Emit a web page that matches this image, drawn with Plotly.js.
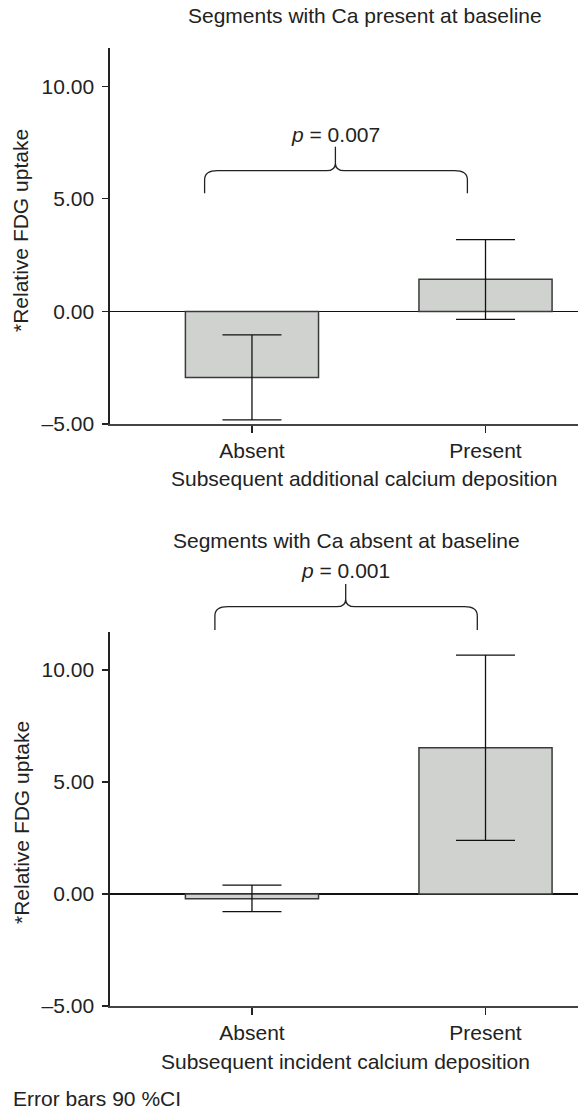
<!DOCTYPE html>
<html>
<head>
<meta charset="utf-8">
<script src="https://cdn.plot.ly/plotly-3.0.1.min.js"></script>
<style>
  html, body { margin: 0; padding: 0; background: #fff; }
  #chart { width: 578px; height: 1109px; }
</style>
</head>
<body>
<div id="chart"></div>
<script>
// ---- data ----
const categories = ["Absent", "Present"];
const topMean = [-2.94, 1.43];
const topLow  = [-4.82, -0.35];
const topHigh = [-1.04, 3.19];
const botMean = [-0.21, 6.53];
const botLow  = [-0.79, 2.40];
const botHigh = [0.40, 10.67];
const yTickVals = [-5, 0, 5, 10];
const yTickText = ["\u20135.00", "0.00", "5.00", "10.00"];

const topTitle = "Segments with Ca present at baseline";
const botTitle = "Segments with Ca absent at baseline";
const topXTitle = "Subsequent additional calcium deposition";
const botXTitle = "Subsequent incident calcium deposition";
const yTitle = "*Relative FDG uptake";
const topP = "<i>p</i> = 0.007";
const botP = "<i>p</i> = 0.001";
const footNote = "Error bars 90 %CI";

// ---- layout helpers (pixel -> paper) ----
const W = 578, H = 1109;
const px = v => v / W;
const py = v => 1 - v / H;

const FONT = "Liberation Sans, Arial, Helvetica, sans-serif";
const TXT = "#222";
const FS = 21;

function barTrace(mean, low, high, xa, ya) {
  return {
    type: "bar",
    x: categories,
    y: mean,
    xaxis: xa, yaxis: ya,
    width: 0.57,
    marker: { color: "#d0d2d0", line: { color: "#3a3a3a", width: 1.5 } },
    error_y: {
      type: "data",
      symmetric: false,
      array: high.map((h, i) => h - mean[i]),
      arrayminus: low.map((l, i) => mean[i] - l),
      color: "#111",
      thickness: 1.3,
      width: 29.5
    },
    hoverinfo: "skip",
    showlegend: false
  };
}

function xAxis(anchor) {
  return {
    anchor: anchor,
    domain: [109.5 / W, 1],
    type: "category",
    range: [-0.61, 1.396],
    showline: true, linecolor: "#444", linewidth: 1.6,
    ticks: "outside", ticklen: 7, tickwidth: 1.2, tickcolor: "#222",
    ticklabelstandoff: 0,
    showgrid: false, zeroline: false,
    tickfont: { family: FONT, size: FS, color: TXT },
    fixedrange: true
  };
}

function yAxis(anchor, top, bottom) {
  return {
    anchor: anchor,
    domain: [py(bottom), py(top)],
    range: [-5, 11.7],
    tickvals: yTickVals, ticktext: yTickText,
    showline: true, linecolor: "#222", linewidth: 1.2,
    ticks: "outside", ticklen: 6, tickwidth: 1.2, tickcolor: "#222",
    ticklabelstandoff: 4,
    showgrid: false,
    zeroline: true, zerolinecolor: "#111", zerolinewidth: 1.2,
    tickfont: { family: FONT, size: FS, color: TXT },
    fixedrange: true
  };
}

function brace(L, R, C, yEnd, yH, yP) {
  const P = (x, y) => px(x) + "," + py(y);
  return "M" + P(L, yEnd) + " L" + P(L, yH + 9) +
    " Q" + P(L, yH) + " " + P(L + 13, yH) +
    " L" + P(C - 9, yH) +
    " Q" + P(C, yH) + " " + P(C, yH - 7.5) +
    " L" + P(C, yP) +
    " M" + P(C, yH - 7.5) +
    " Q" + P(C, yH) + " " + P(C + 9, yH) +
    " L" + P(R - 13, yH) +
    " Q" + P(R, yH) + " " + P(R, yH + 9) +
    " L" + P(R, yEnd);
}

function ann(text, x, y, opts) {
  return Object.assign({
    text: text, xref: "paper", yref: "paper",
    x: px(x), y: py(y), xanchor: "center", yanchor: "middle",
    showarrow: false,
    font: { family: FONT, size: FS, color: TXT }
  }, opts || {});
}

const data = [
  barTrace(topMean, topLow, topHigh, "x", "y"),
  barTrace(botMean, botLow, botHigh, "x2", "y2")
];

const layout = {
  width: W, height: H,
  margin: { l: 0, r: 0, t: 0, b: 0 },
  paper_bgcolor: "#fff", plot_bgcolor: "rgba(0,0,0,0)",
  font: { family: FONT, size: FS, color: TXT },
  xaxis: xAxis("y"),
  yaxis: yAxis("x", 48, 424),
  xaxis2: xAxis("y2"),
  yaxis2: yAxis("x2", 632, 1006),
  bargap: 0.3,
  shapes: [
    { type: "path", xref: "paper", yref: "paper",
      path: brace(204.6, 467.4, 335.4, 193.3, 170.7, 146.7),
      line: { color: "#222", width: 1.3 } },
    { type: "path", xref: "paper", yref: "paper",
      path: brace(214.9, 477.3, 345.7, 630, 606.7, 584),
      line: { color: "#222", width: 1.3 } }
  ],
  annotations: [
    ann(topTitle, 365, 16),
    ann(topP, 335, 134.3),
    ann(topXTitle, 364, 479),
    ann(botTitle, 346, 540.6),
    ann(botP, 345, 570.6),
    ann(botXTitle, 345.5, 1061.6),
    ann(yTitle, 21, 231, { textangle: -90 }),
    ann(yTitle, 21, 823, { textangle: -90 }),
    ann(footNote, 11, 1098.5, { xanchor: "left" })
  ]
};

Plotly.newPlot("chart", data, layout, { displayModeBar: false, staticPlot: true });
</script>
</body>
</html>
